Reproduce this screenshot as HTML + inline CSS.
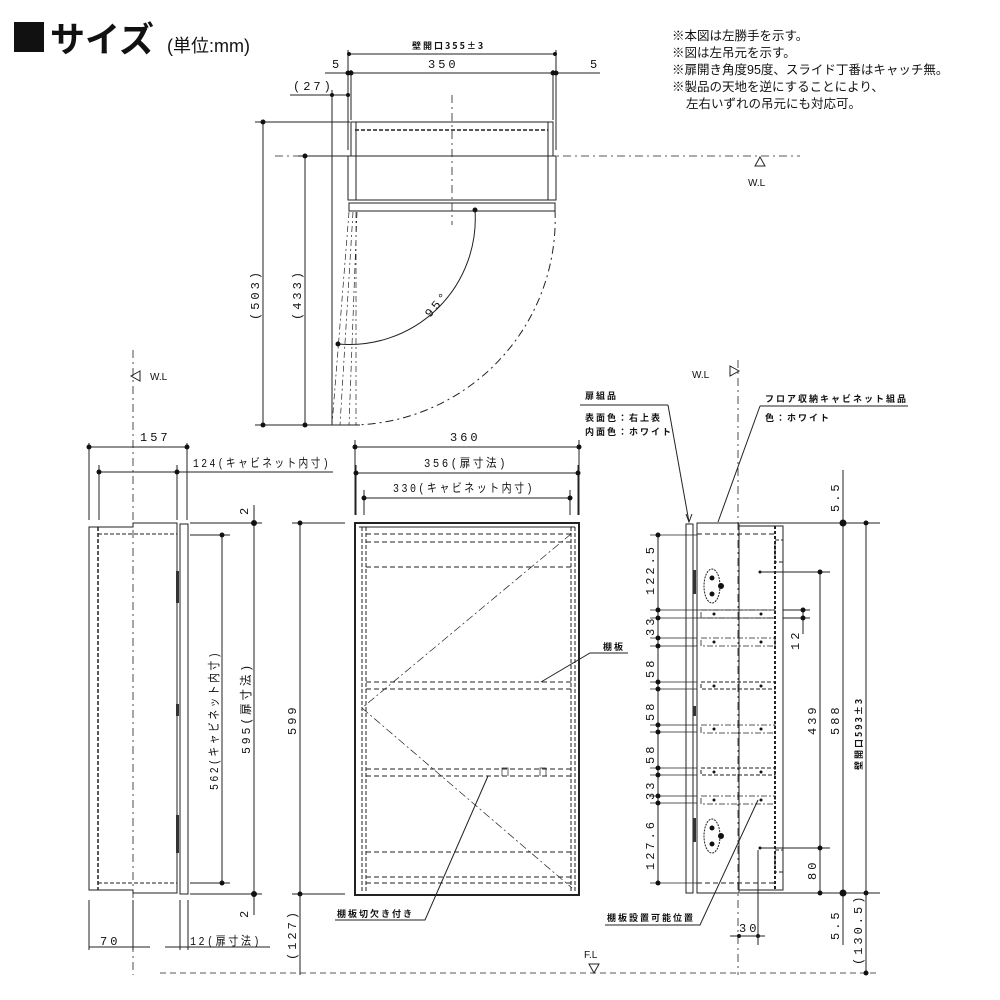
<!DOCTYPE html>
<html><head><meta charset="utf-8"><style>
html,body{margin:0;padding:0;background:#fff;width:1000px;height:1000px;overflow:hidden}
svg{display:block}
text{font-family:"Liberation Sans","Noto Sans CJK JP",sans-serif;fill:#111}
.m{font-family:"Liberation Mono","Noto Sans CJK JP",monospace;font-size:12px;letter-spacing:3px}
.s{font-size:9px;font-family:"Noto Sans CJK JP",sans-serif;font-weight:bold;letter-spacing:2px}
</style></head><body>
<svg width="1000" height="1000" viewBox="0 0 1000 1000" xmlns="http://www.w3.org/2000/svg" stroke="#222" fill="none" stroke-width="1">
<rect x="14" y="22" width="30" height="30" fill="#111" stroke="none"/>
<text x="50" y="52" font-size="35" font-weight="bold" stroke="none">サイズ</text>
<text x="167" y="52" font-size="18" stroke="none">(単位:mm)</text>
<g stroke="none" font-size="12.5">
<text x="672" y="40">※本図は左勝手を示す。</text>
<text x="672" y="57">※図は左吊元を示す。</text>
<text x="672" y="74">※扉開き角度95度、スライド丁番はキャッチ無。</text>
<text x="672" y="91">※製品の天地を逆にすることにより、</text>
<text x="686" y="108">左右いずれの吊元にも対応可。</text>
</g>

<!-- TOP VIEW -->
<g>
<line x1="275" y1="156" x2="800" y2="156" stroke-dasharray="8,4,2,4" stroke-width="0.8"/>
<line x1="452" y1="95" x2="452" y2="225" stroke-dasharray="8,4,2,4" stroke-width="0.8"/>
<rect x="351" y="122" width="202" height="34"/>
<line x1="355" y1="130" x2="548" y2="130" stroke-dasharray="4,2" stroke-width="1.5"/>
<line x1="356" y1="122" x2="356" y2="200"/><line x1="548" y1="122" x2="548" y2="200"/>
<rect x="348" y="156" width="208" height="44"/>
<rect x="349" y="203" width="206" height="8"/>
<path d="M475 210 A126 126 0 0 1 338 344"/>
<path d="M555 210 A206 206 0 0 1 352 425" stroke-dasharray="8,4,2,4"/>
<path d="M349 212 L332 425 M353 212 L340 425 M357 212 L349 425 M356 212 L356 425" stroke-dasharray="6,3,2,3" stroke-width="0.7"/>
<line x1="263" y1="122" x2="263" y2="425"/><line x1="305" y1="156" x2="305" y2="425"/>
<line x1="255" y1="425" x2="360" y2="425"/><line x1="255" y1="122" x2="350" y2="122"/><line x1="298" y1="156" x2="348" y2="156"/>
<line x1="349" y1="54" x2="555" y2="54"/><line x1="325" y1="73" x2="600" y2="73"/>
<line x1="348" y1="50" x2="348" y2="150"/><line x1="556" y1="50" x2="556" y2="150"/><line x1="351" y1="70" x2="351" y2="120"/><line x1="553" y1="70" x2="553" y2="120"/>
<line x1="290" y1="95" x2="348" y2="95"/><line x1="332" y1="90" x2="332" y2="425"/>
<g fill="#111" stroke="none"><circle cx="263" cy="122" r="2.5"/><circle cx="263" cy="425" r="2.5"/><circle cx="305" cy="156" r="2.5"/><circle cx="305" cy="425" r="2.5"/><circle cx="348" cy="73" r="2.5"/><circle cx="351" cy="73" r="2.5"/><circle cx="553" cy="73" r="2.5"/><circle cx="556" cy="73" r="2.5"/><circle cx="349" cy="54" r="2"/><circle cx="555" cy="54" r="2"/><circle cx="332" cy="95" r="2"/><circle cx="348" cy="95" r="2"/><circle cx="475" cy="210" r="2.5"/><circle cx="338" cy="344" r="2.5"/></g>
<text x="412" y="49" class="s" font-size="11" stroke="none">壁開口355±3</text>
<text x="428" y="68" class="m" font-size="13" stroke="none">350</text>
<text x="332" y="68" class="m" stroke="none">5</text><text x="590" y="68" class="m" stroke="none">5</text>
<text x="293" y="90" class="m" stroke="none">(27)</text>
<text class="m" stroke="none" transform="translate(259,320) rotate(-90)">(503)</text>
<text class="m" stroke="none" transform="translate(301,320) rotate(-90)">(433)</text>
<text class="m" stroke="none" transform="translate(430,318) rotate(-50)">95°</text>
<path d="M760 157 L755 166 L765 166 Z"/>
<text x="748" y="186" font-size="10" stroke="none">W.L</text>
</g>

<!-- LEFT SIDE VIEW -->
<g>
<line x1="133" y1="350" x2="133" y2="975" stroke-dasharray="8,4,2,4" stroke-width="0.8"/>
<path d="M140 371 L131 376 L140 381 Z"/><text x="150" y="380" font-size="10" stroke="none">W.L</text>
<path d="M89 527 L133 527 L133 523 L177 523 L177 893 L133 893 L133 890 L89 890 Z"/>
<line x1="98" y1="527" x2="98" y2="890" stroke-dasharray="4,2" stroke-width="1.5"/>
<line x1="98" y1="534" x2="177" y2="534" stroke-dasharray="4,2"/><line x1="98" y1="883" x2="177" y2="883" stroke-dasharray="4,2"/>
<rect x="180" y="524" width="8" height="370"/>
<g fill="#333" stroke="none"><rect x="176" y="571" width="3" height="32"/><rect x="176" y="704" width="3" height="12"/><rect x="176" y="815" width="3" height="38"/></g>
<line x1="89" y1="443" x2="89" y2="520"/><line x1="187" y1="443" x2="187" y2="520"/><line x1="89" y1="447" x2="187" y2="447"/>
<line x1="99" y1="472" x2="333" y2="472"/><line x1="99" y1="465" x2="99" y2="520"/><line x1="177" y1="465" x2="177" y2="520"/>
<line x1="222" y1="535" x2="222" y2="883"/><line x1="190" y1="535" x2="230" y2="535"/><line x1="190" y1="883" x2="230" y2="883"/>
<line x1="254" y1="505" x2="254" y2="915"/><line x1="190" y1="523" x2="262" y2="523"/><line x1="190" y1="894" x2="262" y2="894"/>
<line x1="300" y1="523" x2="300" y2="975"/><line x1="292" y1="523" x2="345" y2="523"/><line x1="292" y1="894" x2="345" y2="894"/>
<line x1="89" y1="900" x2="89" y2="950"/><line x1="133" y1="900" x2="133" y2="950"/><line x1="89" y1="947" x2="150" y2="947"/>
<line x1="180" y1="900" x2="180" y2="950"/><line x1="188" y1="900" x2="188" y2="950"/><line x1="165" y1="947" x2="270" y2="947"/>
<g fill="#111" stroke="none"><circle cx="89" cy="447" r="2.5"/><circle cx="187" cy="447" r="2.5"/><circle cx="99" cy="472" r="2.5"/><circle cx="177" cy="472" r="2.5"/><circle cx="222" cy="535" r="2.5"/><circle cx="222" cy="883" r="2.5"/><circle cx="254" cy="523" r="3"/><circle cx="254" cy="894" r="3"/><circle cx="300" cy="523" r="2.5"/><circle cx="300" cy="894" r="2.5"/></g>
<text x="140" y="441" class="m" stroke="none">157</text>
<text x="193" y="467" class="m" font-size="11" stroke="none" textLength="138" lengthAdjust="spacingAndGlyphs">124(キャビネット内寸)</text>
<text class="m" stroke="none" transform="translate(218,790) rotate(-90)" textLength="140" lengthAdjust="spacingAndGlyphs">562(キャビネット内寸)</text>
<text class="m" stroke="none" transform="translate(250,754) rotate(-90)" textLength="92" lengthAdjust="spacingAndGlyphs">595(扉寸法)</text>
<text class="m" stroke="none" transform="translate(296,735) rotate(-90)">599</text>
<text class="m" stroke="none" transform="translate(248,515) rotate(-90)">2</text>
<text class="m" stroke="none" transform="translate(248,918) rotate(-90)">2</text>
<text class="m" stroke="none" transform="translate(296,960) rotate(-90)">(127)</text>
<text x="100" y="945" class="m" stroke="none">70</text>
<text x="190" y="945" class="m" font-size="11" stroke="none" textLength="72" lengthAdjust="spacingAndGlyphs">12(扉寸法)</text>
</g>

<!-- FRONT VIEW -->
<g>
<rect x="355" y="523" width="224" height="372" stroke-width="2"/>
<line x1="362" y1="527" x2="362" y2="891" stroke-dasharray="4,2"/><line x1="366" y1="527" x2="366" y2="891" stroke-dasharray="4,2"/>
<line x1="571" y1="527" x2="571" y2="891" stroke-dasharray="4,2"/><line x1="575" y1="527" x2="575" y2="891" stroke-dasharray="4,2"/>
<line x1="359" y1="527" x2="575" y2="527"/>
<g stroke-dasharray="5,3"><line x1="366" y1="534" x2="571" y2="534"/><line x1="366" y1="542" x2="571" y2="542"/><line x1="366" y1="567" x2="571" y2="567"/><line x1="366" y1="682" x2="571" y2="682"/><line x1="366" y1="689" x2="571" y2="689"/><line x1="366" y1="769" x2="571" y2="769"/><line x1="366" y1="776" x2="571" y2="776"/><line x1="366" y1="852" x2="571" y2="852"/><line x1="366" y1="877" x2="571" y2="877"/><line x1="366" y1="883" x2="571" y2="883"/></g>
<path d="M571 534 L362 708 L572 888" stroke-dasharray="8,3,2,3" stroke-width="0.7"/>
<path d="M502 776 L502 768 L508 768 L508 776 M540 776 L540 768 L546 768 L546 776" stroke-width="0.7"/>
<line x1="355" y1="440" x2="355" y2="515"/><line x1="579" y1="440" x2="579" y2="515"/><line x1="356" y1="465" x2="356" y2="515"/><line x1="578" y1="465" x2="578" y2="515"/><line x1="364" y1="490" x2="364" y2="515"/><line x1="570" y1="490" x2="570" y2="515"/>
<line x1="355" y1="447" x2="579" y2="447"/><line x1="356" y1="473" x2="578" y2="473"/><line x1="364" y1="498" x2="570" y2="498"/>
<g fill="#111" stroke="none"><circle cx="355" cy="447" r="2.5"/><circle cx="579" cy="447" r="2.5"/><circle cx="356" cy="473" r="2.5"/><circle cx="578" cy="473" r="2.5"/><circle cx="364" cy="498" r="2.5"/><circle cx="570" cy="498" r="2.5"/></g>
<text x="450" y="441" class="m" stroke="none">360</text>
<text x="424" y="467" class="m" font-size="11" stroke="none" textLength="84" lengthAdjust="spacingAndGlyphs">356(扉寸法)</text>
<text x="393" y="492" class="m" font-size="11" stroke="none" textLength="142" lengthAdjust="spacingAndGlyphs">330(キャビネット内寸)</text>
<path d="M541 682 L590 653 L628 653"/><text x="603" y="650" class="s" stroke="none">棚板</text>
<path d="M488 776 L425 920 L335 920"/><text x="337" y="917" class="s" stroke="none">棚板切欠き付き</text>
</g>

<!-- RIGHT SIDE VIEW -->
<g>
<line x1="738" y1="360" x2="738" y2="975" stroke-dasharray="8,4,2,4" stroke-width="0.8"/>
<path d="M730 366 L739 371 L730 376 Z"/><text x="692" y="378" font-size="10" stroke="none">W.L</text>
<line x1="160" y1="973" x2="880" y2="973" stroke-dasharray="6,4" stroke-width="0.8"/>
<path d="M589 964 L599 964 L594 973 Z"/><text x="584" y="958" font-size="10" stroke="none">F.L</text>
<rect x="686" y="524" width="7" height="369"/>
<g fill="#333" stroke="none"><rect x="693" y="570" width="3" height="24"/><rect x="693" y="706" width="3" height="10"/><rect x="693" y="818" width="3" height="24"/></g>
<rect x="697" y="523" width="42" height="370"/>
<rect x="739" y="526" width="44" height="364"/>
<line x1="775" y1="526" x2="775" y2="890" stroke-dasharray="3,2" stroke-width="2"/>
<line x1="697" y1="534" x2="775" y2="534" stroke-dasharray="5,3"/><line x1="697" y1="883" x2="775" y2="883" stroke-dasharray="5,3"/>
<g stroke-dasharray="6,2,2,2" stroke-width="0.8">
<rect x="701" y="610" width="74" height="8"/><rect x="701" y="638" width="74" height="8"/><rect x="701" y="725" width="74" height="8"/><rect x="701" y="796" width="74" height="8"/></g>
<g stroke-dasharray="4,2"><rect x="701" y="682" width="74" height="7"/><rect x="701" y="768" width="74" height="7"/><rect x="775" y="540" width="8" height="22"/><rect x="775" y="850" width="8" height="22"/></g>
<g stroke-dasharray="2,1"><ellipse cx="712" cy="586" rx="8" ry="17"/><ellipse cx="712" cy="836" rx="8" ry="17"/></g>
<g fill="#111" stroke="none"><circle cx="712" cy="578" r="2.5"/><circle cx="712" cy="594" r="2.5"/><circle cx="721" cy="586" r="3"/><circle cx="712" cy="828" r="2.5"/><circle cx="712" cy="844" r="2.5"/><circle cx="721" cy="836" r="3"/>
<circle cx="714" cy="614" r="1.5"/><circle cx="761" cy="614" r="1.5"/><circle cx="714" cy="642" r="1.5"/><circle cx="761" cy="642" r="1.5"/><circle cx="714" cy="686" r="1.5"/><circle cx="761" cy="686" r="1.5"/><circle cx="714" cy="729" r="1.5"/><circle cx="761" cy="729" r="1.5"/><circle cx="714" cy="772" r="1.5"/><circle cx="761" cy="772" r="1.5"/><circle cx="714" cy="800" r="1.5"/><circle cx="761" cy="800" r="1.5"/><circle cx="760" cy="572" r="1.5"/><circle cx="760" cy="848" r="1.5"/></g>
<line x1="658" y1="535" x2="658" y2="883"/>
<g stroke-width="0.7"><line x1="650" y1="535" x2="697" y2="535"/><line x1="650" y1="610" x2="775" y2="610"/><line x1="650" y1="618" x2="775" y2="618"/><line x1="650" y1="638" x2="697" y2="638"/><line x1="650" y1="646" x2="697" y2="646"/><line x1="650" y1="682" x2="697" y2="682"/><line x1="650" y1="689" x2="697" y2="689"/><line x1="650" y1="725" x2="697" y2="725"/><line x1="650" y1="732" x2="697" y2="732"/><line x1="650" y1="768" x2="697" y2="768"/><line x1="650" y1="775" x2="697" y2="775"/><line x1="650" y1="796" x2="697" y2="796"/><line x1="650" y1="803" x2="697" y2="803"/><line x1="650" y1="883" x2="697" y2="883"/></g>
<g fill="#111" stroke="none"><circle cx="658" cy="535" r="2.5"/><circle cx="658" cy="610" r="2.5"/><circle cx="658" cy="618" r="2.5"/><circle cx="658" cy="638" r="2.5"/><circle cx="658" cy="646" r="2.5"/><circle cx="658" cy="682" r="2.5"/><circle cx="658" cy="689" r="2.5"/><circle cx="658" cy="725" r="2.5"/><circle cx="658" cy="732" r="2.5"/><circle cx="658" cy="768" r="2.5"/><circle cx="658" cy="775" r="2.5"/><circle cx="658" cy="796" r="2.5"/><circle cx="658" cy="803" r="2.5"/><circle cx="658" cy="883" r="2.5"/></g>
<g stroke="none">
<text class="m" transform="translate(654,595) rotate(-90)">122.5</text>
<text class="m" transform="translate(654,636) rotate(-90)">33</text>
<text class="m" transform="translate(654,678) rotate(-90)">58</text>
<text class="m" transform="translate(654,721) rotate(-90)">58</text>
<text class="m" transform="translate(654,764) rotate(-90)">58</text>
<text class="m" transform="translate(654,800) rotate(-90)">33</text>
<text class="m" transform="translate(654,870) rotate(-90)">127.6</text>
</g>
<line x1="803" y1="610" x2="803" y2="634"/><line x1="820" y1="572" x2="820" y2="893"/><line x1="843" y1="470" x2="843" y2="945"/><line x1="866" y1="523" x2="866" y2="973"/>
<line x1="760" y1="572" x2="830" y2="572"/><line x1="760" y1="848" x2="830" y2="848"/><line x1="783" y1="610" x2="810" y2="610"/><line x1="783" y1="618" x2="810" y2="618"/>
<line x1="740" y1="523" x2="880" y2="523"/><line x1="740" y1="893" x2="880" y2="893"/>
<g fill="#111" stroke="none"><circle cx="803" cy="610" r="2.5"/><circle cx="803" cy="618" r="2.5"/><circle cx="820" cy="572" r="2.5"/><circle cx="820" cy="848" r="2.5"/><circle cx="820" cy="893" r="2.5"/><circle cx="843" cy="523" r="3.5"/><circle cx="843" cy="893" r="3.5"/><circle cx="866" cy="523" r="2.5"/><circle cx="866" cy="893" r="2.5"/><circle cx="866" cy="973" r="2.5"/><circle cx="739" cy="936" r="2"/><circle cx="758" cy="936" r="2"/></g>
<line x1="758" y1="850" x2="758" y2="945"/><line x1="730" y1="936" x2="765" y2="936"/>
<text x="739" y="932" class="m" font-size="11" stroke="none">30</text>
<g stroke="none">
<text class="m" transform="translate(799,650) rotate(-90)">12</text>
<text class="m" transform="translate(816,735) rotate(-90)">439</text>
<text class="m" transform="translate(839,735) rotate(-90)">588</text>
<text class="m" transform="translate(816,880) rotate(-90)">80</text>
<text class="m" transform="translate(839,512) rotate(-90)">5.5</text>
<text class="m" transform="translate(839,940) rotate(-90)">5.5</text>
<text class="m" transform="translate(862,965) rotate(-90)">(130.5)</text>
<text class="s" font-size="10" transform="translate(862,770) rotate(-90)">壁開口593±3</text>
</g>
<text x="585" y="399" class="s" stroke="none">扉組品</text>
<line x1="580" y1="405" x2="668" y2="405"/>
<text x="585" y="421" class="s" stroke="none">表面色：右上表</text>
<text x="585" y="435" class="s" stroke="none">内面色：ホワイト</text>
<path d="M668 405 L689 522"/><path d="M686 514 L689 522 L692 514"/>
<text x="765" y="402" class="s" stroke="none">フロア収納キャビネット組品</text>
<line x1="760" y1="406" x2="908" y2="406"/>
<text x="765" y="421" class="s" stroke="none">色：ホワイト</text>
<path d="M760 406 L718 522"/>
<text x="607" y="921" class="s" stroke="none">棚板設置可能位置</text>
<path d="M605 925 L700 925 L758 800"/>
</g>
</svg>
</body></html>
